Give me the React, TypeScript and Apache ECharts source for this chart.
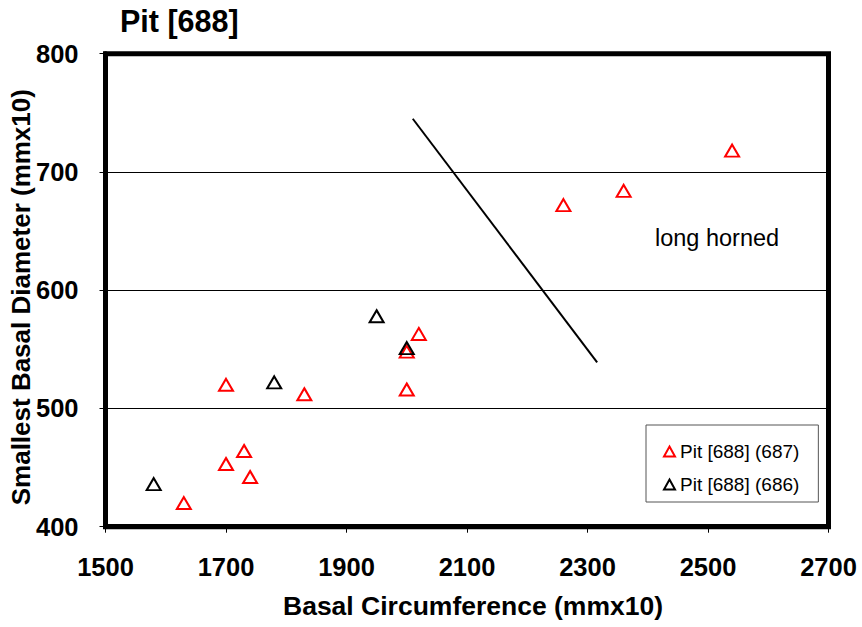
import React, { useEffect, useRef } from "react";
import * as echarts from "echarts";

const redX = [1700, 1830, 2000, 2000, 2020, 2260, 2360, 2540, 1700, 1730, 1740, 1630];
const redY = [520, 512, 516, 548, 563, 672, 684, 718, 453, 464, 442, 420];
const blackX = [1580, 1780, 1950, 2000];
const blackY = [436, 522, 578, 551];
const dividerX = [2010, 2316];
const dividerY = [745, 539];
const seriesNames = ["Pit [688] (687)", "Pit [688] (686)"];
const xTicks = [1500, 2700, 200];
const yTicks = [400, 800, 100];

const zip = (xs: number[], ys: number[]) => xs.map((x, i) => [x, ys[i]]);

export default function App() {
  const ref = useRef<HTMLDivElement>(null);
  useEffect(() => {
    const chart = echarts.init(ref.current!, null, { renderer: "svg" });
    const font = "Arial, 'Liberation Sans', sans-serif";
    const axisText = { fontSize: 25.5, fontWeight: "bold", color: "#000", fontFamily: font };
    chart.setOption({
      animation: false,
      backgroundColor: "#fff",
      textStyle: { fontFamily: font },
      title: {
        text: "Pit [688]",
        left: 120,
        top: 5,
        padding: 0,
        textStyle: { fontSize: 30.5, fontWeight: "bold", color: "#000", fontFamily: font },
      },
      grid: {
        left: 105.5,
        top: 53.7,
        width: 723,
        height: 473,
        outerBoundsMode: "none",
        containLabel: false,
        show: true,
        borderColor: "#000",
        borderWidth: 5,
        backgroundColor: "transparent",
      },
      legend: {
        data: seriesNames,
        orient: "vertical",
        left: 646,
        top: 425,
        padding: [17, 19, 8, 17],
        itemGap: 14,
        itemWidth: 11,
        itemHeight: 10,
        borderColor: "#555",
        borderWidth: 1,
        backgroundColor: "#fff",
        textStyle: { fontSize: 19, color: "#000", fontFamily: font },
      },
      xAxis: {
        type: "value",
        min: xTicks[0],
        max: xTicks[1],
        interval: xTicks[2],
        name: "Basal Circumference (mmx10)",
        nameLocation: "middle",
        nameGap: 66,
        nameMoveOverlap: false,
        nameTextStyle: {
          fontSize: 26.5,
          fontWeight: "bold",
          color: "#000",
          fontFamily: font,
          padding: [0, 0, 0, 12],
        },
        axisLine: { show: true, lineStyle: { color: "#000", width: 5 } },
        axisTick: { show: true, inside: false, length: 6, lineStyle: { color: "#000" } },
        axisLabel: { ...axisText, margin: 27, formatter: (v: number) => String(v) },
        splitLine: { show: false },
      },
      yAxis: {
        type: "value",
        min: yTicks[0],
        max: yTicks[1],
        interval: yTicks[2],
        name: "Smallest Basal Diameter (mmx10)",
        nameLocation: "middle",
        nameGap: 72,
        nameMoveOverlap: false,
        nameTextStyle: {
          fontSize: 26,
          fontWeight: "bold",
          color: "#000",
          fontFamily: font,
          padding: [0, 14, 0, 0],
        },
        axisLine: { show: true, lineStyle: { color: "#000", width: 5 } },
        axisTick: { show: true, inside: false, length: 6, lineStyle: { color: "#000" } },
        axisLabel: { ...axisText, margin: 27, formatter: (v: number) => String(v) },
        splitLine: { show: true, lineStyle: { color: "#000", width: 1 } },
      },
      series: [
        {
          name: "divider",
          type: "line",
          data: zip(dividerX, dividerY),
          symbol: "none",
          lineStyle: { color: "#000", width: 2 },
          silent: true,
          z: 1,
        },
        {
          name: seriesNames[0],
          type: "scatter",
          data: zip(redX, redY),
          symbol: "triangle",
          symbolSize: [14, 12],
          itemStyle: { color: "rgba(255,255,255,0)", borderColor: "#ff0000", borderWidth: 2, opacity: 1 },
          z: 3,
        },
        {
          name: seriesNames[1],
          type: "scatter",
          data: zip(blackX, blackY),
          symbol: "triangle",
          symbolSize: [14, 12],
          itemStyle: { color: "rgba(255,255,255,0)", borderColor: "#000", borderWidth: 2, opacity: 1 },
          z: 4,
        },
      ],
      graphic: [
        {
          type: "text",
          left: 655,
          top: 226,
          style: { text: "long horned", fontSize: 23.5, fill: "#000", fontFamily: font },
        },
      ],
    });
    return () => chart.dispose();
  }, []);
  return (
    <div
      ref={ref}
      style={{ position: "absolute", left: 0, top: 0, width: 862, height: 627 }}
    />
  );
}
